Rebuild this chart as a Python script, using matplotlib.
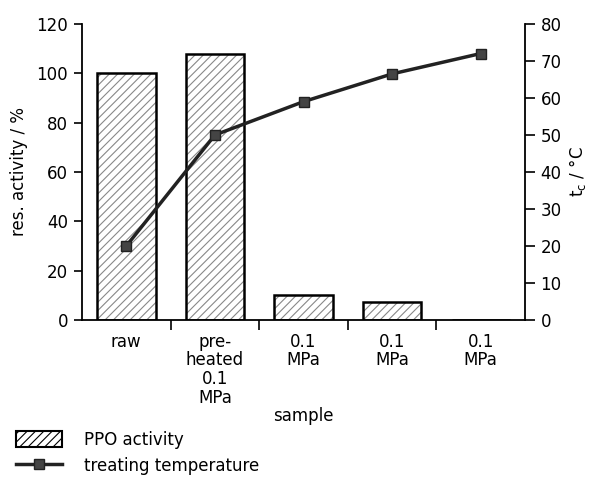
import numpy as np
import matplotlib.pyplot as plt
from matplotlib.patches import Patch
from matplotlib.lines import Line2D

samples = ["raw", "pre-\nheated\n0.1\nMPa", "0.1\nMPa", "0.1\nMPa", "0.1\nMPa"]
ppo_activity = [100, 108, 10, 7.5, 0]
treat_temp = [20, 50, 59, 66.5, 72]

plt.rcParams['font.family'] = ['DejaVu Sans']
plt.rcParams['font.size'] = 12
plt.rcParams['hatch.linewidth'] = 0.8

fig = plt.figure(figsize=(5.92, 4.78), dpi=100)
ax = fig.add_axes([0.1385, 0.3305, 0.7485, 0.6195])
x = np.arange(len(samples))

# hatch in grey, outline in black
ax.bar(x, ppo_activity, width=0.66, color='white', edgecolor='#888888', hatch='////', linewidth=0)
ax.bar(x, ppo_activity, width=0.66, color='none', edgecolor='black', linewidth=1.8)

ax.set_xlim(-0.5, 4.5)
ax.set_ylim(0, 120)
ax.set_yticks(range(0, 121, 20))
ax.set_xticks(x[:-1] + 0.5)
ax.set_xticklabels([])
ax.set_xticks(x, minor=True)
ax.set_xticklabels(samples, minor=True, linespacing=1.05)
ax.tick_params(axis='x', which='major', direction='out', length=7, width=1.2)
ax.tick_params(axis='x', which='minor', length=0, pad=9)
ax.tick_params(axis='y', direction='out', length=6, width=1.2, pad=4)
ax.set_ylabel("res. activity / %", labelpad=6)
ax.set_xlabel("sample", labelpad=0)
ax.spines['top'].set_visible(False)
ax.spines['right'].set_visible(False)
for s in ['left', 'bottom']:
    ax.spines[s].set_linewidth(1.3)

ax2 = ax.twinx()
ax2.plot(x, treat_temp, color='#222222', lw=2.5, marker='s', markersize=7,
         markerfacecolor='#444444', markeredgecolor='#222222')
ax2.set_ylim(0, 80)
ax2.set_yticks(range(0, 81, 10))
ax2.tick_params(axis='y', direction='out', length=7, width=1.2, pad=4)
ax2.set_ylabel("t$_\\mathrm{c}$ / °C", labelpad=4)
ax2.spines['top'].set_visible(False)
ax2.spines['left'].set_visible(False)
ax2.spines['bottom'].set_visible(False)
ax2.spines['right'].set_linewidth(1.3)

handles = [Patch(facecolor='white', edgecolor='black', hatch='////', linewidth=1.5),
           Line2D([0], [0], color='#222222', lw=2.5, marker='s', markersize=7,
                  markerfacecolor='#444444')]
fig.legend(handles, ["PPO activity", "treating temperature"], loc='upper left',
           bbox_to_anchor=(0.015, 0.113), frameon=False, handlelength=2.8,
           handleheight=1.1, handletextpad=1.3, labelspacing=0.5, borderaxespad=0)

fig.savefig("out.png", dpi=100)
